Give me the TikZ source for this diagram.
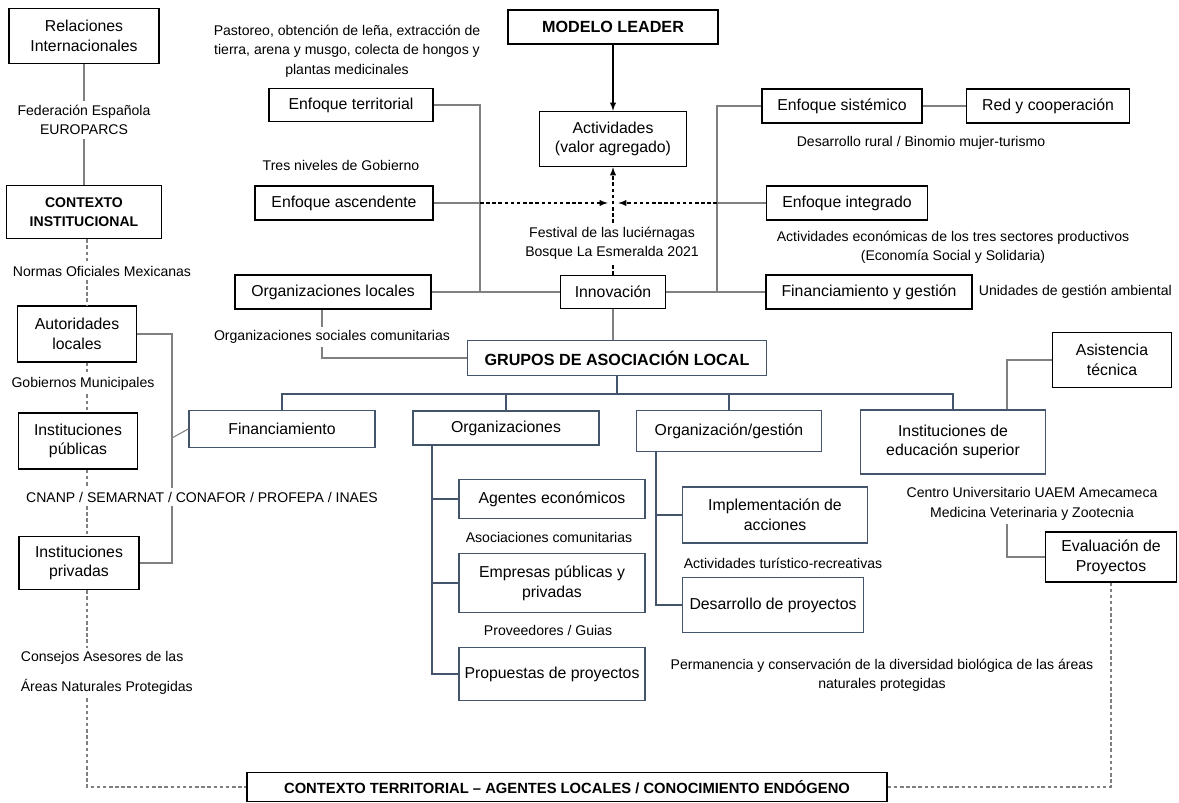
\documentclass[tikz,border=0pt]{standalone}
\usepackage{fontspec}
\setmainfont{Liberation Sans}
\usetikzlibrary{arrows}
\definecolor{slateblue}{HTML}{44546A}
\definecolor{linegray}{HTML}{808080}

\begin{document}
\begin{tikzpicture}[x=0.02cm, y=-0.02cm,
  box/.style={draw=black, line width=0.9pt, align=center, inner sep=2pt, font=\fontsize{9}{11.2}\selectfont},
  bbox/.style={box, draw=slateblue},
  hbox/.style={box, font=\fontsize{8}{10.5}\selectfont\bfseries},
  note/.style={align=center, inner sep=2pt, font=\fontsize{8}{11}\selectfont},
  link/.style={draw=linegray, line width=0.6pt},
  blink/.style={draw=slateblue, line width=0.8pt},
  dlink/.style={draw=linegray, line width=0.6pt, dash pattern=on 2pt off 1.5pt},
  darr/.style={draw=black, line width=0.6pt, dash pattern=on 2pt off 1.5pt, -latex},
]
  \useasboundingbox (0,0) rectangle (1179,803);

  % institutional context (left column)
  \node[box, minimum width=3cm, minimum height=1.1cm] (relint) at (84,36) {Relaciones\\Internacionales};
  \node[note] (fed) at (84,120) {Federación Española\\EUROPARCS};
  \node[hbox, minimum width=3.1cm, minimum height=1.06cm] (ctxinst) at (84,212) {CONTEXTO\\INSTITUCIONAL};
  \node[note] (nom) at (102,271) {Normas Oficiales Mexicanas};
  \node[box, minimum width=2.38cm, minimum height=1.12cm] (autloc) at (77,334) {Autoridades\\locales};
  \node[note] (gob) at (83,384) {Gobiernos Municipales};
  \node[box, minimum width=2.38cm, minimum height=1.12cm] (instpub) at (78,441) {Instituciones\\públicas};
  \node[note] (cnanp) at (202,497) {CNANP / SEMARNAT / CONAFOR / PROFEPA / INAES};
  \node[box, minimum width=2.4cm, minimum height=1.06cm] (instpriv) at (79,563) {Instituciones\\privadas};
  \node[note, align=left, anchor=west] (cons) at (17,673) {Consejos Asesores de las\\[6pt]Áreas Naturales Protegidas};

  % LEADER approaches (top)
  \node[note] (past) at (347,51) {Pastoreo, obtención de leña, extracción de\\tierra, arena y musgo, colecta de hongos y\\plantas medicinales};
  \node[box, minimum width=3.28cm, minimum height=0.66cm] (enfterr) at (351,105) {Enfoque territorial};
  \node[note] (tres) at (341,165) {Tres niveles de Gobierno};
  \node[box, minimum width=3.56cm, minimum height=0.68cm] (enfasc) at (344,203) {Enfoque ascendente};
  \node[box, font=\fontsize{9.2}{11}\selectfont\bfseries, minimum width=4.2cm, minimum height=0.68cm] (leader) at (613,27) {MODELO LEADER};
  \node[box, minimum width=2.94cm, minimum height=1.1cm] (activ) at (613,139) {Actividades\\(valor agregado)};
  \node[note] (fest) at (612,243) {Festival de las luciérnagas\\Bosque La Esmeralda 2021};
  \node[box, minimum width=3.2cm, minimum height=0.68cm] (enfsist) at (842,106) {Enfoque sistémico};
  \node[box, minimum width=3.26cm, minimum height=0.68cm] (red) at (1048,106) {Red y cooperación};
  \node[note] (desru) at (921,143) {Desarrollo rural / Binomio mujer-turismo};
  \node[box, minimum width=3.22cm, minimum height=0.68cm] (enfint) at (847,203) {Enfoque integrado};
  \node[note] (sect) at (953,247) {Actividades económicas de los tres sectores productivos\\(Economía Social y Solidaria)};
  \node[box, minimum width=3.92cm, minimum height=0.68cm] (orgloc) at (333,292) {Organizaciones locales};
  \node[box, minimum width=2.1cm, minimum height=0.66cm] (innov) at (613,292) {Innovación};
  \node[box, minimum width=4.12cm, minimum height=0.68cm] (fingest) at (869,292) {Financiamiento y gestión};
  \node[note, anchor=west] (umas) at (975,292) {Unidades de gestión ambiental};
  \node[note] (orgsoc) at (332,337) {Organizaciones sociales comunitarias};

  % local action groups
  \node[bbox, font=\fontsize{9.2}{11}\selectfont\bfseries, minimum width=5.98cm, minimum height=0.7cm] (grupos) at (617,358) {GRUPOS DE ASOCIACIÓN LOCAL};
  \node[bbox, minimum width=3.72cm, minimum height=0.74cm] (finan) at (282,429) {Financiamiento};
  \node[bbox, minimum width=3.72cm, minimum height=0.68cm] (orgs) at (506,428) {Organizaciones};
  \node[bbox, minimum width=3.7cm, minimum height=0.82cm] (orggest) at (729,431) {Organización/gestión};
  \node[bbox, minimum width=3.7cm, minimum height=1.28cm] (insted) at (953,442) {Instituciones de\\educación superior};
  \node[box, minimum width=2.38cm, minimum height=1.1cm] (asist) at (1112,360) {Asistencia\\técnica};
  \node[note] (cuaem) at (1032,504) {Centro Universitario UAEM Amecameca\\Medicina Veterinaria y Zootecnia};
  \node[box, minimum width=2.62cm, minimum height=1.0cm] (evalp) at (1111,557) {Evaluación de\\Proyectos};
  \node[bbox, minimum width=3.72cm, minimum height=0.78cm] (agent) at (552,499) {Agentes económicos};
  \node[note] (asoc) at (549,537) {Asociaciones comunitarias};
  \node[bbox, minimum width=3.72cm, minimum height=1.18cm] (empr) at (552,583) {Empresas públicas y\\privadas};
  \node[note] (prov) at (548,630) {Proveedores / Guias};
  \node[bbox, minimum width=3.72cm, minimum height=1.06cm] (prop) at (552,674) {Propuestas de proyectos};
  \node[bbox, minimum width=3.7cm, minimum height=1.12cm] (implem) at (775,515) {Implementación de\\acciones};
  \node[note] (turis) at (783,563) {Actividades turístico-recreativas};
  \node[bbox, minimum width=3.62cm, minimum height=1.1cm] (desp) at (773,605) {Desarrollo de proyectos};
  \node[note] (perm) at (882,675) {Permanencia y conservación de la diversidad biológica de las áreas\\naturales protegidas};
  \node[hbox, font=\fontsize{8.4}{10}\selectfont\bfseries, minimum width=12.8cm, minimum height=0.58cm] (ctxterr) at (567,787) {CONTEXTO TERRITORIAL – AGENTES LOCALES / CONOCIMIENTO ENDÓGENO};

  % left column connectors
  \coordinate (col) at (87,0);
  \draw[link] (relint) -- (fed);
  \draw[link] (fed) -- (ctxinst);
  \draw[dlink] (col |- ctxinst.south) -- (col |- nom.north);
  \draw[dlink] (col |- nom.south) -- (col |- autloc.north);
  \draw[dlink] (col |- autloc.south) -- (col |- gob.north);
  \draw[dlink] (col |- gob.south) -- (col |- instpub.north);
  \draw[dlink] (col |- instpub.south) -- (col |- cnanp.north);
  \draw[dlink] (col |- cnanp.south) -- (col |- instpriv.north);
  \draw[dlink] (col |- instpriv.south) -- (col |- cons.north);
  \draw[dlink] (col |- cons.south) |- (ctxterr.west);
  \draw[dlink] (ctxterr.east) -| (evalp.south);
  \coordinate (brk) at (172,438);
  \draw[link] (autloc.east) -| (brk |- cnanp.north);
  \draw[link] (brk |- cnanp.south) |- (instpriv.east);
  \draw[link] (brk) -- (finan.west);

  % top connectors
  \coordinate (tx) at (480,292);
  \coordinate (sx) at (717,292);
  \coordinate (hub) at (613,203);
  \draw[-latex, line width=0.6pt] (leader) -- (activ);
  \draw[link] (enfterr.east) -| (tx);
  \draw[link] (enfsist.west) -| (sx);
  \draw[link] (enfsist) -- (red);
  \draw[link] (orgloc) -- (innov);
  \draw[link] (innov) -- (fingest);
  \draw[link] (enfasc.east) -- (tx |- enfasc.east);
  \draw[darr, shorten >=3pt] (tx |- enfasc.east) -- (hub);
  \draw[link] (enfint.west) -- (sx |- enfint.west);
  \draw[darr, shorten >=3pt] (sx |- enfint.west) -- (hub);
  \draw[darr, -] (innov.north) -- (innov.north |- fest.south);
  \draw[darr] (innov.north |- fest.north) -- (innov.north |- activ.south);
  \draw[link] (innov.south) -- (innov.south |- grupos.north);
  \coordinate (lx) at (322,0);
  \draw[link] (lx |- orgloc.south) -- (lx |- orgsoc.north);
  \draw[link] (lx |- orgsoc.south) |- (grupos.west);

  % group tree
  \coordinate (bus) at (617,394);
  \draw[blink] (grupos.south) -- (bus);
  \draw[blink] (finan.north) |- (bus) -| (insted.north);
  \draw[blink] (orgs.north) -- (orgs.north |- bus);
  \draw[blink] (orggest.north) -- (orggest.north |- bus);
  \coordinate (ox) at (432,0);
  \draw[blink] (ox |- orgs.south) |- (prop.west);
  \draw[blink] (ox |- agent.west) -- (agent.west);
  \draw[blink] (ox |- empr.west) -- (empr.west);
  \coordinate (gx) at (656,0);
  \draw[blink] (gx |- orggest.south) |- (desp.west);
  \draw[blink] (gx |- implem.west) -- (implem.west);
  \coordinate (ax) at (1007,0);
  \draw[link] (asist.west) -| (ax |- insted.north);
  \draw[link] (ax |- cuaem.south) |- (evalp.west);
\end{tikzpicture}
\end{document}
